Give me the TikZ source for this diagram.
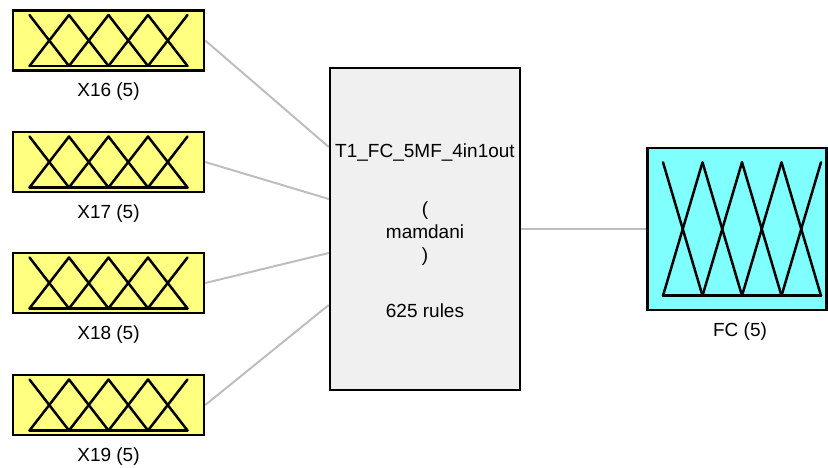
\documentclass[tikz,border=0pt]{standalone}
\usepackage{fontspec}
\setmainfont{Liberation Sans}
\usetikzlibrary{calc,backgrounds}
\definecolor{inyellow}{RGB}{255,255,128}
\definecolor{outcyan}{RGB}{128,255,255}
\definecolor{fisgray}{RGB}{240,240,240}
\definecolor{linkgray}{RGB}{190,190,190}
\begin{document}
\begin{tikzpicture}[x=1pt,y=-1pt,
  inbox/.style={draw=black, line width=2.5pt, fill=inyellow, minimum width=191pt, minimum height=60pt, inner sep=0pt},
  outbox/.style={draw=black, line width=2.5pt, fill=outcyan, minimum width=179pt, minimum height=162pt, inner sep=0pt},
  fisbox/.style={draw=black, line width=2.5pt, fill=fisgray, minimum width=190pt, minimum height=322pt, inner sep=0pt},
  lbl/.style={font=\fontsize{19}{23}\selectfont, inner sep=0pt},
  mfline/.style={draw=black, line width=2.5pt, line cap=round, line join=round},
  link/.style={draw=linkgray, line width=2pt}]
\useasboundingbox (0,0) rectangle (828,468);
% input boxes
\node[inbox] (x16) at (108.5,40.5) {};
\node[inbox] (x17) at (108.5,162) {};
\node[inbox] (x18) at (108.5,283) {};
\node[inbox] (x19) at (108.5,405) {};
\foreach \n in {x16,x17,x18,x19}{
  \begin{scope}[shift={(\n.center)}]
    \draw[mfline] (-79,25.5) -- (79,25.5);
    \foreach \a in {-79,-39.5,0,39.5}{
      \draw[mfline] (\a,-25.5) -- (\a+39.5,25.5);
      \draw[mfline] (\a,25.5) -- (\a+39.5,-25.5);
    }
  \end{scope}
}
\node[lbl] (l16) at ($(x16.center)+(0,51.5)$) {X16 (5)};
\node[lbl] (l17) at ($(x17.center)+(0,51.5)$) {X17 (5)};
\node[lbl] (l18) at ($(x18.center)+(0,51.5)$) {X18 (5)};
\node[lbl] (l19) at ($(x19.center)+(0,51.5)$) {X19 (5)};
% central FIS box
\node[fisbox] (fis) at (425,229) {};
\node[lbl, align=center] (fist) at (425,231) {T1\_FC\_5MF\_4in1out\\[35pt](\\mamdani\\)\\[33pt]625 rules};
% output box
\node[outbox] (fc) at (737,229) {};
\begin{scope}[shift={(fc.center)}]
  \draw[mfline] (-74,66.7) -- (84,66.7);
  \foreach \a in {-74,-34.5,5,44.5}{
    \draw[mfline] (\a,-66.7) -- (\a+39.5,66.7);
    \draw[mfline] (\a,66.7) -- (\a+39.5,-66.7);
  }
\end{scope}
\node[lbl] (lfc) at ($(fc.center)+(3,102.5)$) {FC (5)};
% connectors
\begin{scope}[on background layer]
  \draw[link] (x16.east) -- ($(fis.west)+(0,-82)$);
  \draw[link] (x17.east) -- ($(fis.west)+(0,-30)$);
  \draw[link] (x18.east) -- ($(fis.west)+(0,24)$);
  \draw[link] (x19.east) -- ($(fis.west)+(0,76)$);
  \draw[link] (fis.east) -- (fc.west);
\end{scope}
\end{tikzpicture}
\end{document}
